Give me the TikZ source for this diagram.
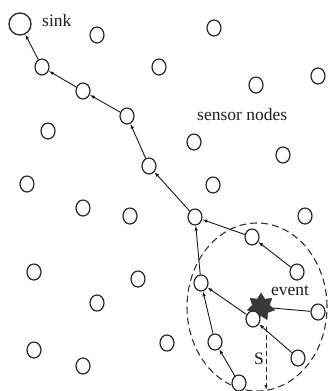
\documentclass[tikz,border=0pt]{standalone}
\usepackage{fontspec}
\setmainfont{Liberation Serif}
\usetikzlibrary{shapes.geometric,arrows.meta}
\tikzset{
  sn/.style={draw=black!85, ellipse, minimum width=14pt, minimum height=16pt,
             inner sep=0pt, fill=white, line width=1.2pt},
  sinknode/.style={draw=black!85, circle, minimum size=22pt, inner sep=0pt,
             fill=white, line width=1.3pt},
  hop/.style={draw=black!90, line width=0.9pt, -{Latex[length=5pt,width=3.5pt]}},
  lbl/.style={font=\fontsize{17.5}{20}\selectfont, inner sep=0pt, text=black!88},
  zone/.style={draw=black!80, dash pattern=on 7pt off 4pt, ellipse, line width=1.1pt,
             minimum width=140pt, minimum height=168pt, inner sep=0pt},
  eventmark/.style={star, star points=7, star point ratio=1.6, minimum size=28pt,
             inner sep=0pt, fill=black!78, draw=black!78}
}
\begin{document}
\begin{tikzpicture}[x=1pt,y=-1pt]
\useasboundingbox (0,0) rectangle (328,391);

% sensing region around the event
\node[zone] (region) at (257,307) {};

% the event itself
\node[eventmark] (ev) at (261,307) {};

% sink
\node[sinknode] (sink) at (20,24) {};
\node[lbl, anchor=base west] (sinklbl) at (42,26) {sink};

% relay path towards the sink
\node[sn] (n1) at (42,67) {};
\node[sn] (n2) at (83,91) {};
\node[sn] (n3) at (127,116) {};
\node[sn] (n4) at (149,166) {};
\node[sn] (j)  at (195,217) {};
\node[sn] (a)  at (252,237) {};
\node[sn] (b)  at (297,272) {};
\node[sn] (c)  at (201,283) {};
\node[sn] (e)  at (253,319) {};
\node[sn] (d)  at (215,342) {};
\node[sn] (f)  at (239,383) {};
\node[sn] (g)  at (318,312) {};
\node[sn] (h)  at (298,358) {};

% idle sensor nodes
\node[sn] (i1)  at (97,35) {};
\node[sn] (i2)  at (214,28) {};
\node[sn] (i3)  at (159,67) {};
\node[sn] (i4)  at (256,85) {};
\node[sn] (i5)  at (318,76) {};
\node[sn] (i6)  at (48,131) {};
\node[sn] (i7)  at (194,142) {};
\node[sn] (i8)  at (283,155) {};
\node[sn] (i9)  at (27,184) {};
\node[sn] (i10) at (213,185) {};
\node[sn] (i11) at (83,208) {};
\node[sn] (i12) at (130,216) {};
\node[sn] (i13) at (305,216) {};
\node[sn] (i14) at (34,272) {};
\node[sn] (i15) at (138,279) {};
\node[sn] (i16) at (97,303) {};
\node[sn] (i17) at (34,350) {};
\node[sn] (i18) at (83,366) {};
\node[sn] (i19) at (167,343) {};

% forwarding hops
\draw[hop] (n1) -- (sink);
\draw[hop] (n2) -- (n1);
\draw[hop] (n3) -- (n2);
\draw[hop] (n4) -- (n3);
\draw[hop] (j) -- (n4);
\draw[hop] (a) -- (j);
\draw[hop] (b) -- (a);
\draw[hop] (c) -- (j);
\draw[hop] (e) -- (c);
\draw[hop] (d) -- (c);
\draw[hop] (f) -- (d);
\draw[hop] (h) -- (e);
\draw[draw=black!90, line width=0.9pt] (g) -- (ev);

% sensing radius
\coordinate (r0) at (266,327);
\coordinate (r1) at (266,390);
\draw[draw=black!85, line width=0.9pt, dash pattern=on 5pt off 3pt,
      -{Latex[length=5pt,width=3.5pt]}] (r0) -- (r1);

% labels
\node[lbl, anchor=base west] (evlbl) at (271,295) {event};
\node[lbl, anchor=base west] (slbl) at (254,364) {S};
\node[lbl, anchor=base west] (snlbl) at (197,120) {sensor nodes};
\end{tikzpicture}
\end{document}
